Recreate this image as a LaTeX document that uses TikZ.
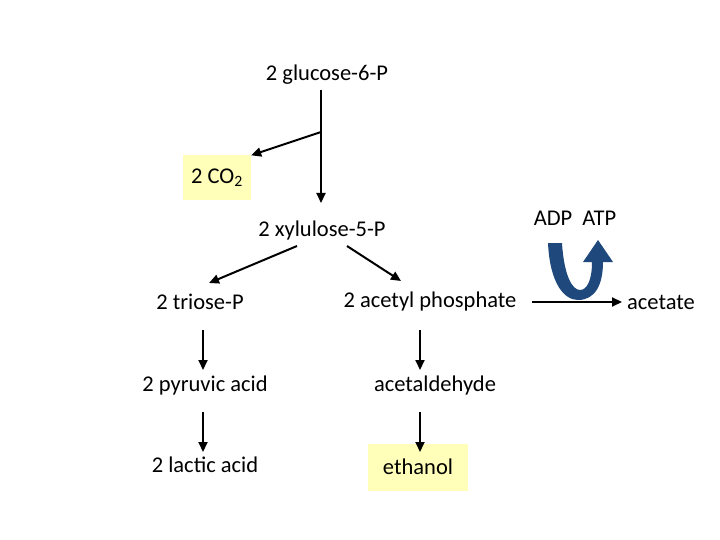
\documentclass[tikz,border=0pt]{standalone}
\usepackage{fontspec}
\setmainfont{Carlito}
\usetikzlibrary{arrows.meta}
\definecolor{hly}{RGB}{255,255,185}
\definecolor{ublue}{RGB}{31,73,125}
\begin{document}
\begin{tikzpicture}[x=1pt,y=-1pt,
  lbl/.style={font=\fontsize{22.5}{26}\selectfont, inner sep=0pt},
  hl/.style={fill=hly, minimum width=#1},
  arr/.style={-{Triangle[length=10pt,width=9pt]}, line width=2pt}]
\useasboundingbox (0,0) rectangle (720,540);
\node[lbl] (g6p) at (327,75) {2 glucose-6-P};
\node[lbl, hl=68pt, minimum height=45pt] (co2) at (217,178) {2 CO\textsubscript{2}};
\node[lbl] (xyl) at (322,231) {2 xylulose-5-P};
\node[lbl] (tri) at (200,302) {2 triose-P};
\node[lbl] (acp) at (430,302) {2 acetyl phosphate};
\node[lbl] (act) at (661,302) {acetate};
\node[lbl] (adp) at (575,218) {ADP\hspace{10pt}ATP};
\node[lbl] (pyr) at (205,385) {2 pyruvic acid};
\node[lbl] (ald) at (435,385) {acetaldehyde};
\node[lbl] (lac) at (205,465) {2 lactic acid};
\node[lbl, hl=100pt, minimum height=47pt] (eth) at (418,467) {ethanol};
\coordinate (br) at (321,132);
\coordinate (a1) at (532,302);
\coordinate (a2) at (622,302);
\draw[line width=2pt] (321,90) -- (br);
\draw[arr] (br) -- (321,203);
\draw[arr] (br) -- (co2.north east);
\draw[arr] (297,246) -- (209,283);
\draw[arr] (347,246) -- (401,281);
\draw[arr] (a1) -- (a2);
\draw[arr] (203,330) -- (203,370);
\draw[arr] (203,412) -- (203,452);
\draw[arr] (420,330) -- (420,370);
\draw[arr] (420,412) -- (420,452);
\fill[ublue] (548,243) .. controls (550,285) and (565,300) .. (578,300)
  .. controls (595,300) and (603,285) .. (603,262) -- (613,262) -- (598,240) -- (583,262) -- (592,262)
  .. controls (592,280) and (587,290) .. (580,290) .. controls (572,290) and (564,275) .. (562,243) -- cycle;
\end{tikzpicture}
\end{document}
